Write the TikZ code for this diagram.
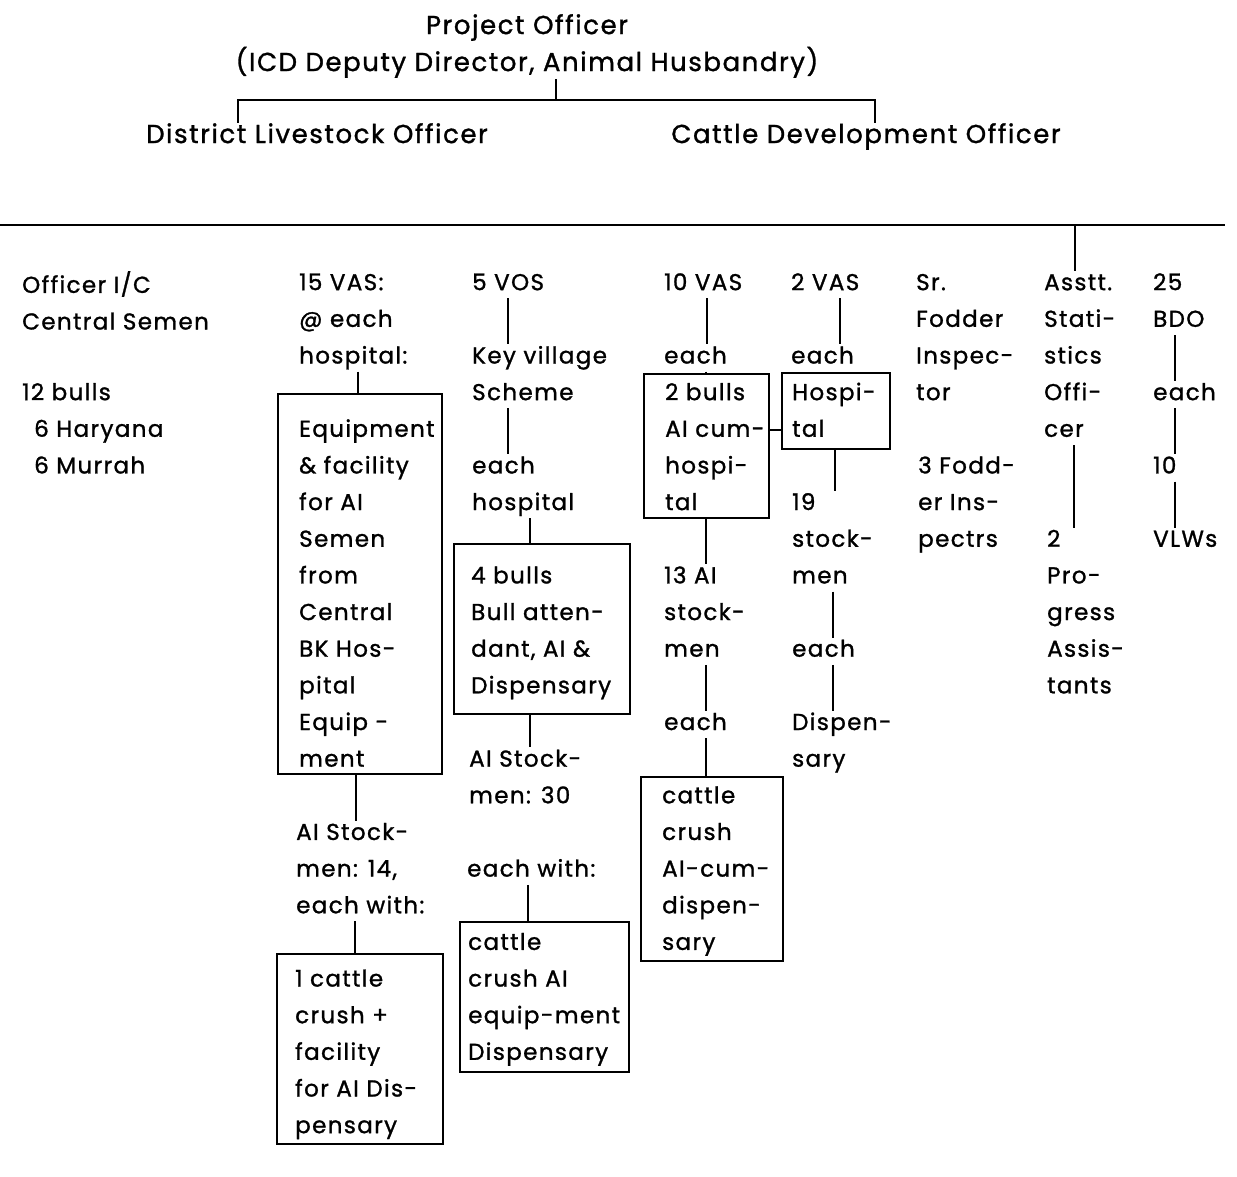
\documentclass[tikz,border=0pt]{standalone}
\usepackage{fontspec}
\setmainfont[LetterSpace=6,FakeBold=1.2]{Poppins}
\newcommand\Lst{\rule[-8pt]{0pt}{27pt}}
\begin{document}
\begin{tikzpicture}[x=1pt,y=-1pt,
  txt/.style={anchor=north west,inner sep=0pt,align=left,font=\fontsize{23}{36.65}\selectfont},
  ctxt/.style={anchor=north,inner sep=0pt,align=center,font=\fontsize{26}{37}\selectfont},
  bx/.style={draw,line width=1.6pt,anchor=north west,inner sep=0pt},
  ln/.style={line width=1.6pt}]
\useasboundingbox (0,0) rectangle (1237,1177);
\def\R#1{{271+36.65*#1}}
% top
\node[ctxt] (po) at (527,14) {\Lst Project Officer\\\Lst (ICD Deputy Director, Animal Husbandry)};
\node[ctxt] (dlo) at (317,123) {\Lst District Livestock Officer};
\node[ctxt] (cdo) at (866,123) {\Lst Cattle Development Officer};
\coordinate (j) at (556,100);
\coordinate (tl) at (238,100);
\coordinate (tr) at (875,100);
\draw[ln] (po.south -| j) -- (j);
\draw[ln] (dlo.north -| tl) -- (tl) -- (tr) -- (cdo.north -| tr);
\coordinate (hl) at (0,225);
\coordinate (hr) at (1225,225);
\coordinate (ha) at (1075,225);
\draw[ln] (hl) -- (hr);
% column 1
\node[txt] (c1a) at (22,\R{0}) {\Lst Officer I/C\\\Lst Central Semen};
\node[txt] (c1b) at (22,\R{3}) {\Lst 12 bulls\\\Lst\hspace*{12pt}6 Haryana\\\Lst\hspace*{12pt}6 Murrah};
% column 2
\node[txt] (c2a) at (299,\R{0}) {\Lst 15 VAS:\\\Lst @ each\\\Lst hospital:};
\node[bx,minimum width=164pt,minimum height=380pt] (b1) at (277,393) {};
\node[txt] (c2b) at (299,\R{4}) {\Lst Equipment\\\Lst \& facility\\\Lst for AI\\\Lst Semen\\\Lst from\\\Lst Central\\\Lst BK Hos-\\\Lst pital\\\Lst Equip -\\\Lst ment};
\node[txt] (c2c) at (296,\R{15}) {\Lst AI Stock-\\\Lst men: 14,\\\Lst each with:};
\node[bx,minimum width=166pt,minimum height=190pt] (b5) at (276,953) {};
\node[txt] (c2d) at (295,\R{19}) {\Lst 1 cattle\\\Lst crush +\\\Lst facility\\\Lst for AI Dis-\\\Lst pensary};
\draw[ln] (c2a.south -| 358,0) -- (b1.north -| 358,0);
\draw[ln] (b1.south -| 356,0) -- (c2c.north -| 356,0);
\draw[ln] (c2c.south -| 355,0) -- (b5.north -| 355,0);
% column 3
\node[txt] (c3a) at (472,\R{0}) {\Lst 5 VOS};
\node[txt] (c3b) at (472,\R{2}) {\Lst Key village\\\Lst Scheme};
\node[txt] (c3c) at (472,\R{5}) {\Lst each\\\Lst hospital};
\node[bx,minimum width=176pt,minimum height=170pt] (b2) at (453,543) {};
\node[txt] (c3d) at (471,\R{8}) {\Lst 4 bulls\\\Lst Bull atten-\\\Lst dant, AI \&\\\Lst Dispensary};
\node[txt] (c3e) at (469,\R{13}) {\Lst AI Stock-\\\Lst men: 30};
\node[txt] (c3f) at (467,\R{16}) {\Lst each with:};
\node[bx,minimum width=169pt,minimum height=150pt] (b6) at (459,921) {};
\node[txt] (c3g) at (468,\R{18}) {\Lst cattle\\\Lst crush AI\\\Lst equip-ment\\\Lst Dispensary};
\draw[ln] (c3a.south -| 508,0) -- (c3b.north -| 508,0);
\draw[ln] (c3b.south -| 508,0) -- (c3c.north -| 508,0);
\draw[ln] (c3c.south -| 530,0) -- (b2.north -| 530,0);
\draw[ln] (b2.south -| 530,0) -- (c3e.north -| 530,0);
\draw[ln] (c3f.south -| 528,0) -- (b6.north -| 528,0);
% column 4
\node[txt] (c4a) at (664,\R{0}) {\Lst 10 VAS};
\node[txt] (c4b) at (664,\R{2}) {\Lst each};
\node[bx,minimum width=125pt,minimum height=144pt] (b3) at (643,373) {};
\node[txt] (c4c) at (665,\R{3}) {\Lst 2 bulls\\\Lst AI cum-\\\Lst hospi-\\\Lst tal};
\node[txt] (c4d) at (664,\R{8}) {\Lst 13 AI\\\Lst stock-\\\Lst men};
\node[txt] (c4e) at (664,\R{12}) {\Lst each};
\node[bx,minimum width=142pt,minimum height=184pt] (b7) at (640,776) {};
\node[txt] (c4f) at (662,\R{14}) {\Lst cattle\\\Lst crush\\\Lst AI-cum-\\\Lst dispen-\\\Lst sary};
\draw[ln] (c4a.south -| 707,0) -- (c4b.north -| 707,0);
\draw[ln] (c4b.south -| 706,0) -- (b3.north -| 706,0);
\draw[ln] (b3.south -| 706,0) -- (c4d.north -| 706,0);
\draw[ln] (c4d.south -| 706,0) -- (c4e.north -| 706,0);
\draw[ln] (c4e.south -| 706,0) -- (b7.north -| 706,0);
% column 5
\node[txt] (c5a) at (791,\R{0}) {\Lst 2 VAS};
\node[txt] (c5b) at (791,\R{2}) {\Lst each};
\node[bx,minimum width=108pt,minimum height=76pt] (b4) at (781,372) {};
\node[txt] (c5c) at (792,\R{3}) {\Lst Hospi-\\\Lst tal};
\node[txt] (c5d) at (792,\R{6}) {\Lst 19\\\Lst stock-\\\Lst men};
\node[txt] (c5e) at (792,\R{10}) {\Lst each};
\node[txt] (c5f) at (792,\R{12}) {\Lst Dispen-\\\Lst sary};
\draw[ln] (c5a.south -| 840,0) -- (c5b.north -| 840,0);
\draw[ln] (b4.south -| 835,0) -- (c5d.north -| 835,0);
\draw[ln] (c5d.south -| 833,0) -- (c5e.north -| 833,0);
\draw[ln] (c5e.south -| 833,0) -- (c5f.north -| 833,0);
\draw[ln] (b3.east |- 0,430) -- (b4.west |- 0,430);
% column 6
\node[txt] (c6a) at (916,\R{0}) {\Lst Sr.\\\Lst Fodder\\\Lst Inspec-\\\Lst tor};
\node[txt] (c6b) at (918,\R{5}) {\Lst 3 Fodd-\\\Lst er Ins-\\\Lst pectrs};
% column 7
\node[txt] (c7a) at (1044,\R{0}) {\Lst Asstt.\\\Lst Stati-\\\Lst stics\\\Lst Offi-\\\Lst cer};
\node[txt] (c7b) at (1047,\R{7}) {\Lst 2\\\Lst Pro-\\\Lst gress\\\Lst Assis-\\\Lst tants};
\draw[ln] (ha) -- (c7a.north -| ha);
\draw[ln] (c7a.south -| 1074,0) -- (c7b.north -| 1074,0);
% column 8
\node[txt] (c8a) at (1153,\R{0}) {\Lst 25\\\Lst BDO};
\node[txt] (c8b) at (1153,\R{3}) {\Lst each};
\node[txt] (c8c) at (1153,\R{5}) {\Lst 10};
\node[txt] (c8d) at (1153,\R{7}) {\Lst VLWs};
\draw[ln] (c8a.south -| 1175,0) -- (c8b.north -| 1175,0);
\draw[ln] (c8b.south -| 1175,0) -- (c8c.north -| 1175,0);
\draw[ln] (c8c.south -| 1175,0) -- (c8d.north -| 1175,0);
\end{tikzpicture}
\end{document}
